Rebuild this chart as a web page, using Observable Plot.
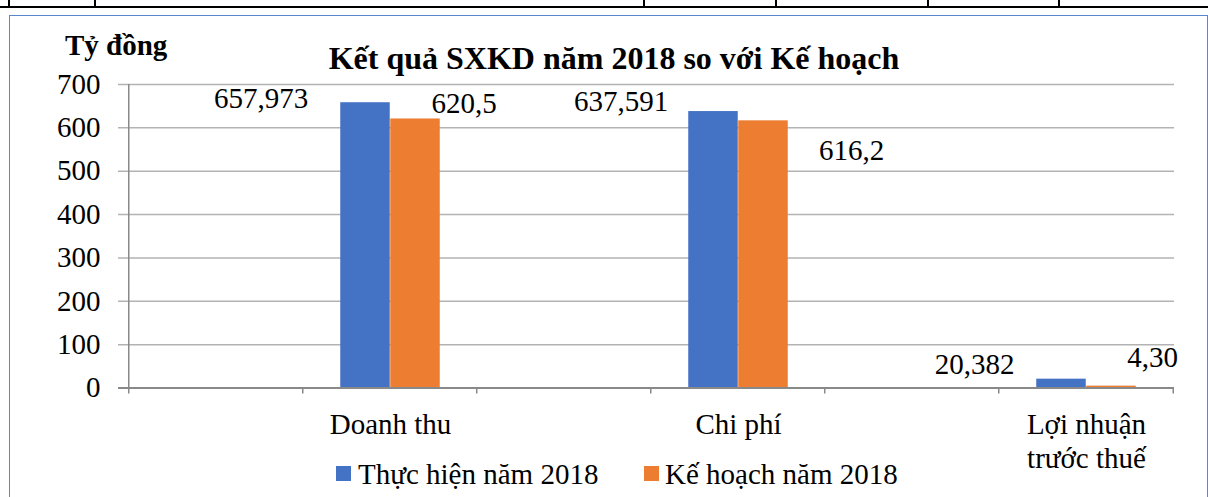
<!DOCTYPE html>
<html>
<head>
<meta charset="utf-8">
<script src="https://cdn.jsdelivr.net/npm/d3@7"></script>
<script src="https://cdn.jsdelivr.net/npm/@observablehq/plot@0.6"></script>
<style>
  html, body { margin: 0; padding: 0; background: #fff; }
  #wrap { position: relative; width: 1208px; height: 497px; overflow: hidden;
          font-family: "Liberation Serif", "Times New Roman", serif; color: #000; }
  #chart { position: absolute; left: 0; top: 0; }
  #chart svg, #chart svg text { font-family: "Liberation Serif", "Times New Roman", serif !important; }
  .hline { position: absolute; left: 0; top: 6px; width: 1208px; height: 2px; background: #000; }
  .vline { position: absolute; top: 0; width: 1.5px; height: 7px; background: #000; }
  .frame { position: absolute; left: 9px; top: 15px; width: 1199px; height: 500px;
           border: 1px solid #5b87d1; box-sizing: border-box; }
  .title { position: absolute; left: 0; width: 1228px; top: 42px; text-align: center;
           font-size: 32px; line-height: 32px; font-weight: bold; white-space: nowrap; }
  .unit { position: absolute; left: 65px; top: 31px; font-size: 29px; line-height: 29px;
          font-weight: bold; white-space: nowrap; }
  .legend { position: absolute; top: 460px; left: 0; font-size: 29px; line-height: 29px; white-space: nowrap; }
  .legend .sw { position: absolute; top: 6px; width: 15px; height: 15px; }
  .legend .lab { position: absolute; top: 0; }
</style>
</head>
<body>
<div id="wrap">
  <div class="hline"></div>
  <div class="frame"></div>
  <div id="chart"></div>
  <div class="title">Kết quả SXKD năm 2018 so với Kế hoạch</div>
  <div class="unit">Tỷ đồng</div>
  <div class="legend" id="legend"></div>
</div>
<script>
// ---- data ----
const categories = ["Doanh thu", "Chi phí", "Lợi nhuận trước thuế"];
const seriesNames = ["Thực hiện năm 2018", "Kế hoạch năm 2018"];
const actualValues = [657.973, 637.591, 20.382];
const planValues = [620.5, 616.2, 4.30];
const actualLabels = ["657,973", "637,591", "20,382"];
const planLabels = ["620,5", "616,2", "4,30"];
const yTicks = [0, 100, 200, 300, 400, 500, 600, 700];

// ---- style ----
const colors = ["#4472C4", "#ED7D31"];
const tableLinesX = [8, 94, 643, 775, 927, 1058];
// manual label nudges (px), mimicking the dragged data labels of the source chart
const actualNudge = [[-129.5, 5], [-117.5, -1], [-112, -5]];
const planNudge = [[73.5, -6], [113, 39], [66, -19]];

const W = 1208, H = 497;
const mL = 127, mR = 34, mT = 84, mB = 109.5;
const font = "Liberation Serif, Times New Roman, serif";
const fs = 29;

// slots: an empty band before every category (as in the source layout)
const slots = categories.flatMap((c, i) => ["gap" + i, c]);
const bw = (W - mL - mR) / slots.length;
const barW = 50;
const sideIn = (bw - 2 * barW) / 2;

const actualRows = categories.map((c, i) => ({cat: c, value: actualValues[i], label: actualLabels[i], nudge: actualNudge[i]}));
const planRows = categories.map((c, i) => ({cat: c, value: planValues[i], label: planLabels[i], nudge: planNudge[i]}));

const axisColor = "#898989";
const gridColor = "#b3b3b3";

const labelMarks = [...actualRows, ...planRows].map(d =>
  Plot.text([d], {x: "cat", y: "value", text: "label", dx: d.nudge[0], dy: d.nudge[1],
    lineAnchor: "bottom", textAnchor: "middle", fontSize: fs, fontFamily: font, fill: "#000"})
);

const chart = Plot.plot({
  width: W, height: H,
  marginLeft: mL, marginRight: mR, marginTop: mT, marginBottom: mB,
  style: {fontFamily: font, color: "#000", background: "transparent", overflow: "visible"},
  x: {type: "band", domain: slots, padding: 0, axis: null, label: null},
  y: {domain: [0, 700], axis: null, label: null},
  marks: [
    Plot.ruleY(yTicks.filter(t => t > 0), {y: d => d, stroke: gridColor, strokeWidth: 1.5, insetLeft: -9}),
    Plot.barY(actualRows, {x: "cat", y: "value", fill: colors[0], insetLeft: sideIn, insetRight: sideIn + barW}),
    Plot.barY(planRows, {x: "cat", y: "value", fill: colors[1], insetLeft: sideIn + barW, insetRight: sideIn}),
    Plot.ruleY([0], {y: d => d, stroke: axisColor, strokeWidth: 2, insetLeft: -9}),
    // vertical value axis line (left edge of first band), extended by the tick below the axis
    Plot.barY([slots[0]], {x: d => d, y1: 0, y2: 700, fill: axisColor, insetLeft: -1, insetRight: bw - 1, insetBottom: -6}),
    // category boundary tick marks
    Plot.barY(slots.slice(1), {x: d => d, y1: 0, y2: 0, fill: axisColor, insetLeft: -1, insetRight: bw - 1, insetBottom: -6}),
    Plot.barY([slots[slots.length - 1]], {x: d => d, y1: 0, y2: 0, fill: axisColor, insetLeft: bw - 1, insetRight: -1, insetBottom: -6}),
    Plot.axisY({ticks: yTicks, tickSize: 0, tickPadding: 27, fontSize: fs, fontFamily: font, fill: "#000", label: null}),
    Plot.axisX({tickSize: 0, tickPadding: 23, fontSize: fs, fontFamily: font, lineHeight: 1.14, fill: "#000", label: null,
      tickFormat: d => d.startsWith("gap") ? "" : (d === "Lợi nhuận trước thuế" ? "Lợi nhuận\ntrước thuế" : d)}),
    ...labelMarks
  ]
});
document.getElementById("chart").appendChild(chart);

// table lines at the top
const wrap = document.getElementById("wrap");
tableLinesX.forEach(x => {
  const v = document.createElement("div");
  v.className = "vline";
  v.style.left = x + "px";
  wrap.appendChild(v);
});

// legend
const legend = document.getElementById("legend");
const legendPos = [[336, 358], [644, 665]];
seriesNames.forEach((name, i) => {
  const sw = document.createElement("div");
  sw.className = "sw";
  sw.style.left = legendPos[i][0] + "px";
  sw.style.background = colors[i];
  legend.appendChild(sw);
  const lab = document.createElement("div");
  lab.className = "lab";
  lab.style.left = legendPos[i][1] + "px";
  lab.textContent = name;
  legend.appendChild(lab);
});
</script>
</body>
</html>
